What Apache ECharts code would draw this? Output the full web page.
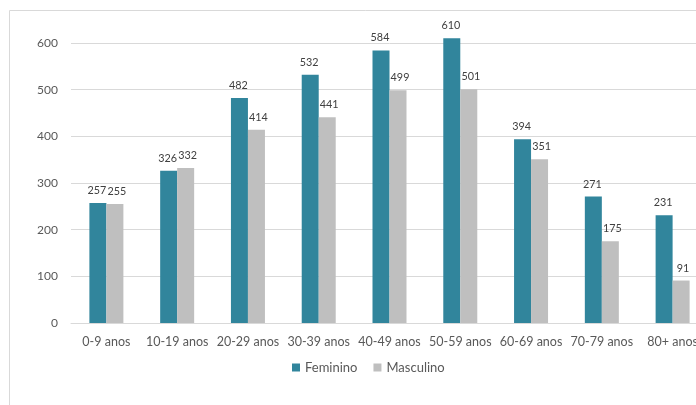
<!DOCTYPE html>
<html><head><meta charset="utf-8">
<script src="https://cdn.jsdelivr.net/npm/echarts@6/dist/echarts.min.js"></script>
<style>html,body{margin:0;padding:0;background:#fff;overflow:hidden}#c{width:720px;height:405px}</style>
</head><body><div id="c"></div>
<script>
const categories = ['0-9 anos','10-19 anos','20-29 anos','30-39 anos','40-49 anos','50-59 anos','60-69 anos','70-79 anos','80+ anos'];
const feminino = [257,326,482,532,584,610,394,271,231];
const masculino = [255,332,414,441,499,501,351,175,91];
const yTicks = {min:0, max:600, interval:100};

const chart = echarts.init(document.getElementById('c'), null, {renderer:'canvas'});
const font = 'Lato, "Open Sans", sans-serif';
const lblF = {show:true, position:'top', color:'#404040', fontSize:10.8, fontFamily:font, distance:7, offset:[-1,0]};
const lblM = {show:true, position:'top', color:'#404040', fontSize:10.8, fontFamily:font, distance:7, offset:[2,0]};
chart.setOption({
  animation:false,
  textStyle:{fontFamily:font},
  graphic:[{type:'rect', shape:{x:9.5,y:10.5,width:740,height:420}, style:{fill:'none', stroke:'#d9d9d9', lineWidth:1}, silent:true}],
  grid:{left:71, top:43, width:637, height:280, containLabel:false},
  legend:{top:356, left:287, itemWidth:8, itemHeight:8, itemGap:16, icon:'rect',
    textStyle:{color:'#595959', fontSize:13, fontFamily:font}, data:['Feminino','Masculino']},
  xAxis:{type:'category', data:categories, axisTick:{show:false},
    axisLine:{lineStyle:{color:'#d9d9d9', width:1}},
    axisLabel:{color:'#595959', fontSize:12.5, fontFamily:font, margin:12, interval:0}},
  yAxis:{type:'value', min:yTicks.min, max:yTicks.max, interval:yTicks.interval,
    axisLine:{show:false}, axisTick:{show:false},
    splitLine:{lineStyle:{color:'#d9d9d9'}},
    axisLabel:{color:'#595959', fontSize:12, fontFamily:font, margin:13}},
  series:[
    {name:'Feminino', type:'bar', clip:false, data:feminino, barWidth:17, barGap:'0%', itemStyle:{color:'#31859C'}, label:lblF},
    {name:'Masculino', type:'bar', clip:false, data:masculino, barWidth:17, itemStyle:{color:'#BFBFBF'}, label:lblM}
  ]
});
</script></body></html>
